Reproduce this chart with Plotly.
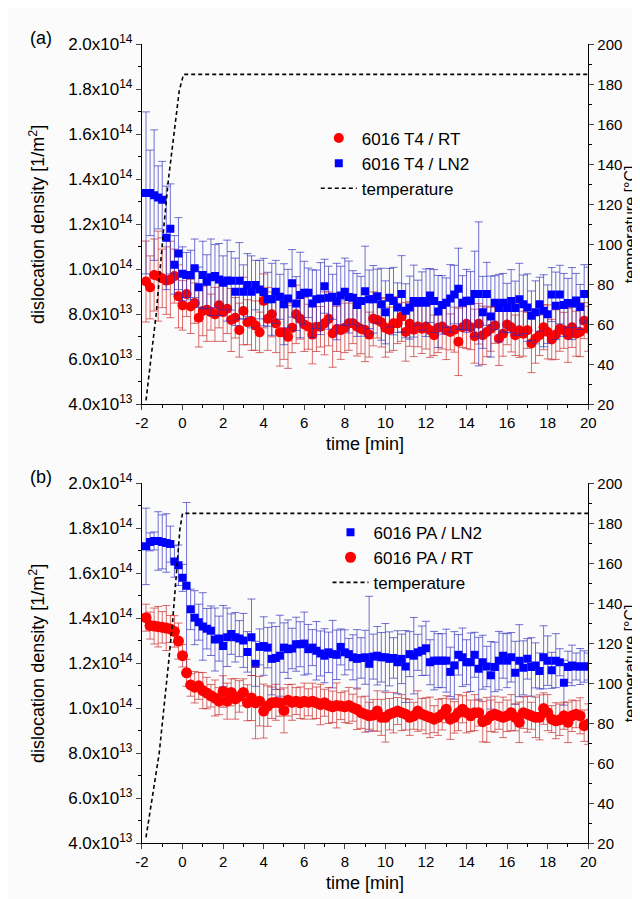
import plotly.graph_objects as go

# ---------------- data ----------------
TIME = [-1.8, -1.6, -1.4, -1.2, -1.0, -0.8, -0.6, -0.4, -0.2, 0.0,
        0.2, 0.4, 0.6, 0.8, 1.0, 1.2, 1.4, 1.6, 1.8, 2.0,
        2.2, 2.4, 2.6, 2.8, 3.0, 3.2, 3.4, 3.6, 3.8, 4.0,
        4.2, 4.4, 4.6, 4.8, 5.0, 5.2, 5.4, 5.6, 5.8, 6.0,
        6.2, 6.4, 6.6, 6.8, 7.0, 7.2, 7.4, 7.6, 7.8, 8.0,
        8.2, 8.4, 8.6, 8.8, 9.0, 9.2, 9.4, 9.6, 9.8, 10.0,
        10.2, 10.4, 10.6, 10.8, 11.0, 11.2, 11.4, 11.6, 11.8, 12.0,
        12.2, 12.4, 12.6, 12.8, 13.0, 13.2, 13.4, 13.6, 13.8, 14.0,
        14.2, 14.4, 14.6, 14.8, 15.0, 15.2, 15.4, 15.6, 15.8, 16.0,
        16.2, 16.4, 16.6, 16.8, 17.0, 17.2, 17.4, 17.6, 17.8, 18.0,
        18.2, 18.4, 18.6, 18.8, 19.0, 19.2, 19.4, 19.6, 19.8, 20.0]

# dislocation density in units of 1e13 1/m^2
T4_RT = [9.46, 9.2, 9.75, 9.7, 9.6, 9.5, 9.55, 9.7, 8.8, 8.4,
         8.9, 8.35, 8.5, 7.85, 8.15, 8.2, 8.1, 8.0, 8.4, 8.1,
         8.25, 7.75, 7.85, 7.3, 8.15, 7.65, 7.7, 7.5, 7.2, 8.6,
         7.8, 8.0, 7.6, 7.2, 7.2, 7.0, 7.4, 8.0, 7.8, 7.55,
         7.45, 7.1, 7.45, 7.45, 7.6, 7.8, 7.15, 7.35, 7.3, 7.4,
         7.6, 7.6, 7.45, 7.35, 7.3, 7.1, 7.8, 7.75, 7.65, 7.4,
         7.32, 7.6, 7.6, 7.9, 7.22, 7.58, 7.32, 7.46, 7.36, 7.46,
         7.29, 7.07, 7.4, 7.46, 7.29, 7.22, 7.32, 6.78, 7.43, 7.58,
         7.43, 7.03, 7.58, 7.07, 7.22, 7.36, 7.51, 6.93, 7.14, 7.55,
         7.43, 7.07, 7.29, 7.14, 7.29, 6.71, 6.93, 7.07, 7.43, 7.22,
         6.88, 7.1, 7.36, 7.29, 7.07, 7.43, 7.14, 7.22, 7.72, 7.36]
T4_RT_ERR = [1.8, 1.4, 1.6, 2.0, 1.3, 1.5, 1.7, 1.2, 1.4, 1.1,
             1.0, 1.2, 0.9, 1.3, 1.1, 1.4, 0.8, 1.2, 1.0, 1.3,
             1.1, 1.4, 0.9, 1.2, 1.5, 1.0, 1.3, 1.1, 0.9, 1.2,
             1.4, 1.0, 1.3, 1.5, 1.2, 1.4, 1.1, 1.3, 0.9, 1.2,
             1.0, 1.3, 1.1, 0.9, 1.4, 1.2, 1.5, 1.0, 1.3, 1.1,
             1.2, 0.9, 1.3, 1.1, 1.4, 1.0, 1.2, 0.8, 1.1, 1.3,
             1.0, 1.2, 0.9, 1.1, 1.3, 1.0, 1.2, 0.9, 1.1, 1.0,
             1.2, 0.9, 1.1, 1.0, 1.3, 0.8, 1.0, 1.5, 0.9, 1.1,
             1.0, 1.2, 0.9, 1.3, 1.1, 1.0, 0.8, 1.2, 1.0, 0.9,
             1.1, 0.9, 1.2, 1.0, 0.8, 1.3, 1.1, 0.9, 1.0, 1.2,
             0.9, 1.1, 1.0, 0.8, 1.2, 0.9, 1.0, 1.1, 0.8, 1.0]

T4_LN2 = [13.4, 13.4, 13.3, 13.2, 13.1, 11.4, 11.8, 10.2, 10.7, 9.8,
          9.75, 9.75, 10.05, 9.2, 9.75, 9.45, 9.65, 9.7, 9.55, 9.4,
          9.5, 9.49, 9.0, 9.49, 9.0, 9.3, 9.0, 9.3, 9.1, 8.99,
          8.67, 8.67, 9.0, 8.78, 8.45, 8.7, 9.38, 8.48, 8.86, 8.96,
          8.96, 8.48, 8.67, 8.7, 9.25, 8.74, 8.78, 8.57, 8.84, 9.0,
          8.77, 8.74, 8.42, 8.59, 9.03, 8.67, 8.67, 8.81, 8.45, 8.09,
          8.74, 8.59, 8.30, 8.91, 8.16, 8.30, 8.59, 8.52, 8.59, 8.52,
          8.84, 8.59, 8.13, 8.42, 8.52, 8.71, 8.88, 9.14, 8.52, 8.6,
          8.6, 8.91, 8.91, 8.09, 8.91, 7.9, 8.52, 8.28, 8.52, 8.28,
          8.59, 8.28, 8.67, 8.45, 8.30, 7.94, 8.09, 8.45, 8.16, 8.01,
          8.88, 8.38, 8.88, 8.42, 8.5, 8.48, 8.62, 8.33, 8.91, 8.9]
T4_LN2_ERR = [3.6, 1.9, 2.9, 1.4, 1.7, 2.3, 2.0, 1.3, 1.6, 1.2,
              1.0, 1.1, 1.3, 0.9, 1.5, 1.2, 1.7, 1.4, 1.6, 1.2,
              1.8, 1.3, 1.5, 1.7, 1.2, 1.4, 1.6, 1.1, 1.3, 1.5,
              1.2, 1.6, 1.4, 1.0, 1.8, 1.3, 1.5, 1.2, 1.9, 1.4,
              1.1, 1.5, 1.3, 1.6, 1.2, 1.4, 1.0, 1.7, 1.3, 1.5,
              1.6, 1.2, 1.4, 1.1, 2.0, 1.3, 1.5, 1.2, 1.6, 1.4,
              1.3, 1.5, 1.1, 1.7, 1.2, 1.4, 1.6, 1.0, 1.3, 1.5,
              1.2, 1.4, 1.6, 1.3, 1.1, 1.5, 1.3, 1.8, 1.2, 1.4,
              1.3, 1.9, 3.2, 1.6, 1.4, 1.8, 1.2, 1.5, 1.3, 1.1,
              1.4, 1.2, 1.6, 1.3, 1.5, 1.1, 1.4, 1.2, 1.6, 1.3,
              1.2, 1.5, 1.3, 1.4, 1.1, 1.6, 1.2, 1.0, 1.3, 1.2]

PA_LN2 = [17.2, 17.4, 17.44, 17.44, 17.4, 17.35, 17.3, 16.53, 16.36, 15.8,
          15.45, 14.4, 14.03, 13.83, 13.64, 13.54, 13.45, 13.06, 13.1, 12.77,
          13.16, 13.3, 13.16, 13.1, 13.02, 12.51, 13.16, 11.98, 12.73, 12.77,
          12.7, 12.2, 12.24, 12.34, 12.7, 12.63, 12.66, 12.85, 12.85, 12.88,
          12.63, 12.7, 12.56, 12.44, 12.34, 12.49, 12.41, 12.38, 12.73, 12.49,
          12.41, 12.27, 12.2, 12.24, 12.27, 11.98, 12.3, 12.34, 12.27, 12.27,
          12.2, 12.24, 12.05, 12.2, 11.86, 12.41, 12.34, 12.49, 12.56, 12.67,
          12.05, 12.12, 12.12, 12.12, 12.12, 11.62, 11.91, 12.38, 12.27, 12.05,
          12.05, 12.38, 11.76, 12.05, 11.86, 11.47, 11.84, 12.12, 12.34, 12.12,
          12.27, 11.58, 12.12, 11.8, 12.2, 11.84, 11.91, 11.66, 12.27, 12.12,
          11.69, 12.12, 12.05, 11.14, 11.84, 11.91, 11.86, 11.86, 11.86, 11.86]
PA_LN2_ERR = [1.7, 0.4, 0.4, 1.3, 1.2, 1.3, 0.8, 0.7, 0.9, 0.6,
              3.7, 0.9, 1.2, 0.8, 1.5, 0.9, 1.1, 1.4, 1.0, 1.8,
              1.3, 0.9, 1.1, 0.8, 1.2, 0.9, 1.7, 1.0, 0.8, 1.3,
              0.9, 1.6, 1.4, 1.8, 1.1, 1.3, 0.9, 1.2, 1.0, 1.4,
              1.1, 0.8, 1.3, 1.0, 1.2, 0.9, 1.5, 1.1, 0.8, 1.0,
              0.7, 1.0, 1.3, 0.9, 1.2, 3.0, 1.0, 1.3, 1.1, 1.5,
              1.2, 0.9, 1.4, 1.1, 1.6, 1.0, 1.7, 0.8, 1.1, 1.2,
              1.0, 1.3, 1.2, 1.2, 1.4, 1.1, 1.5, 0.9, 1.3, 1.0,
              1.3, 1.0, 1.4, 1.2, 0.9, 1.5, 1.1, 1.3, 1.0, 1.2,
              1.1, 1.4, 1.6, 1.2, 0.9, 1.3, 1.0, 0.8, 1.4, 1.1,
              0.8, 1.2, 0.6, 1.0, 0.7, 0.9, 0.6, 0.8, 0.7, 0.6]

PA_RT = [14.03, 13.68, 13.66, 13.63, 13.6, 13.57, 13.53, 13.42, 12.99, 12.34,
         11.58, 11.04, 10.94, 11.0, 10.79, 10.68, 10.56, 10.46, 10.32, 10.75,
         10.32, 10.71, 10.42, 10.53, 10.71, 10.25, 10.46, 10.25, 10.32, 9.88,
         10.1, 10.25, 10.27, 10.25, 9.91, 10.36, 10.27, 10.32, 10.25, 10.32,
         10.27, 10.32, 10.25, 10.17, 10.25, 10.13, 10.07, 10.13, 10.1, 10.07,
         10.13, 10.03, 9.96, 9.81, 9.74, 9.67, 9.7, 9.88, 9.6, 9.6,
         9.74, 9.81, 9.88, 9.81, 9.74, 9.6, 9.67, 9.88, 9.74, 9.67,
         9.6, 9.52, 9.6, 9.74, 9.96, 9.52, 9.6, 9.81, 9.96, 9.81,
         9.67, 9.81, 9.81, 9.41, 9.49, 9.67, 9.74, 9.67, 9.6, 9.67,
         9.81, 9.6, 9.38, 9.81, 9.74, 9.67, 9.6, 9.6, 9.99, 9.81,
         9.52, 9.45, 9.49, 9.67, 9.38, 9.67, 9.74, 9.67, 9.23, 9.3]
PA_RT_ERR = [0.6, 0.6, 0.8, 0.9, 0.7, 1.0, 0.6, 0.7, 0.8, 0.5,
             0.6, 0.5, 0.7, 0.6, 0.8, 0.7, 0.5, 0.8, 0.6, 0.7,
             0.8, 0.6, 0.9, 0.7, 0.6, 0.8, 1.0, 1.6, 1.1, 1.2,
             0.9, 0.7, 0.8, 0.6, 1.0, 0.7, 0.8, 0.6, 0.7, 0.8,
             0.6, 0.8, 0.7, 0.9, 0.6, 0.8, 0.7, 1.0, 0.6, 0.7,
             0.8, 0.6, 0.9, 0.7, 0.8, 0.6, 0.7, 0.9, 0.8, 1.1,
             0.7, 0.9, 0.6, 0.8, 0.7, 0.8, 0.6, 0.9, 0.7, 0.8,
             0.9, 0.6, 0.8, 0.7, 0.6, 0.9, 0.7, 0.8, 0.6, 0.9,
             0.7, 0.8, 0.6, 0.9, 1.0, 0.7, 0.8, 0.6, 0.9, 0.7,
             0.8, 0.6, 0.9, 0.7, 0.8, 0.6, 0.9, 1.0, 0.7, 0.8,
             0.6, 0.8, 0.7, 0.6, 0.9, 0.7, 0.6, 0.8, 0.7, 0.9]

TEMP_T_A = [-1.8, -1.3, -0.92, -0.7, -0.16, 0.05, 20.0]
TEMP_C_A = [22, 65, 109, 132, 177, 185, 185]
TEMP_T_B = [-1.8, -1.15, -0.69, -0.48, -0.13, 0.0, 20.0]
TEMP_C_B = [23, 65, 110, 132, 177, 185, 185]

Y_TICKVALS = [4, 6, 8, 10, 12, 14, 16, 18, 20]
Y_TICKTEXT = ["4.0x10<sup>13</sup>", "6.0x10<sup>13</sup>", "8.0x10<sup>13</sup>",
              "1.0x10<sup>14</sup>", "1.2x10<sup>14</sup>", "1.4x10<sup>14</sup>",
              "1.6x10<sup>14</sup>", "1.8x10<sup>14</sup>", "2.0x10<sup>14</sup>"]
X_TICKVALS = [-2, 0, 2, 4, 6, 8, 10, 12, 14, 16, 18, 20]
X_TICKTEXT = ["-2", "0", "2", "4", "6", "8", "10", "12", "14", "16", "18", "20"]

for arr in (T4_RT, T4_RT_ERR, T4_LN2, T4_LN2_ERR, PA_LN2, PA_LN2_ERR, PA_RT, PA_RT_ERR):
    assert len(arr) == len(TIME), len(arr)

# ---------------- styling ----------------
FONT = "Liberation Sans, Arial, sans-serif"
RED = "#ff0000"
BLUE = "#0000ff"
RED_ERR = "rgba(200,30,30,0.65)"
BLUE_ERR = "rgba(40,40,190,0.65)"
BG = "#fbfbfb"

fig = go.Figure()


def density_trace(y, err, name, color, ecolor, symbol, size, xa, ya, legend):
    return go.Scatter(
        x=TIME, y=y, mode="markers", name=name,
        marker=dict(color=color, symbol=symbol, size=size, line=dict(width=0)),
        error_y=dict(type="data", array=err, visible=True, color=ecolor,
                     thickness=1, width=4),
        xaxis=xa, yaxis=ya, legend=legend)


# panel (a)
fig.add_trace(density_trace(T4_RT, T4_RT_ERR, "6016 T4 / RT", RED, RED_ERR,
                            "circle", 10, "x", "y", "legend"))
fig.add_trace(density_trace(T4_LN2, T4_LN2_ERR, "6016 T4 / LN2", BLUE, BLUE_ERR,
                            "square", 8, "x", "y", "legend"))
fig.add_trace(go.Scatter(x=TEMP_T_A, y=TEMP_C_A, mode="lines", name="temperature",
                         line=dict(color="black", dash="4px,3px", width=1.6),
                         xaxis="x", yaxis="y2", legend="legend"))

# panel (b)
fig.add_trace(density_trace(PA_LN2, PA_LN2_ERR, "6016 PA / LN2", BLUE, BLUE_ERR,
                            "square", 8, "x2", "y3", "legend2"))
fig.add_trace(density_trace(PA_RT, PA_RT_ERR, "6016 PA / RT", RED, RED_ERR,
                            "circle", 11, "x2", "y3", "legend2"))
fig.add_trace(go.Scatter(x=TEMP_T_B, y=TEMP_C_B, mode="lines", name="temperature",
                         line=dict(color="black", dash="4px,3px", width=1.6),
                         xaxis="x2", yaxis="y4", legend="legend2"))

W, H = 640, 899
XD = [130 / W, 587 / W]
YA = [1 - 394 / H, 1 - 25 / H]
YB = [1 - 844 / H, 1 - 475 / H]

xtickfont = dict(family=FONT, size=15, color="black")
ytickfont = dict(family=FONT, size=17, color="black")
rtickfont = dict(family=FONT, size=15, color="black")
titlefont = dict(family=FONT, size=18, color="black")


def xaxis(anchor):
    return dict(domain=XD, anchor=anchor, range=[-2, 20], tickmode="array",
                tickvals=X_TICKVALS, ticktext=X_TICKTEXT, ticks="outside",
                ticklen=5, tickwidth=1,
                showline=True, linecolor="black", linewidth=1.2, showgrid=False,
                zeroline=False, tickfont=xtickfont,
                minor=dict(tickmode="linear", tick0=-2, dtick=1, ticks="outside",
                           ticklen=3, tickcolor="black", showgrid=False),
                title=dict(text="time [min]", font=titlefont, standoff=6))


def yleft(domain, anchor):
    return dict(domain=domain, anchor=anchor, range=[4, 20], tickmode="array",
                tickvals=Y_TICKVALS, ticktext=Y_TICKTEXT, ticks="outside",
                ticklen=5, tickwidth=1, showline=True, linecolor="black",
                linewidth=1.2, showgrid=False, zeroline=False, tickfont=ytickfont,
                minor=dict(tickmode="linear", tick0=4, dtick=1, ticks="outside",
                           ticklen=3, tickcolor="black", showgrid=False),
                title=dict(text="dislocation density [1/m<sup>2</sup>]",
                           font=titlefont, standoff=18))


def yright(overlay, anchor):
    return dict(overlaying=overlay, anchor=anchor, side="right", range=[20, 200],
                tickmode="linear", tick0=20, dtick=20, ticks="outside", ticklen=5,
                tickwidth=1, showline=True, linecolor="black", linewidth=1.2,
                showgrid=False, zeroline=False, tickfont=rtickfont,
                minor=dict(tickmode="linear", tick0=20, dtick=10, ticks="outside",
                           ticklen=3, tickcolor="black", showgrid=False),
                title=dict(text="temperature [°C]",
                           font=dict(family=FONT, size=16, color="black"),
                           standoff=1))


legend_common = dict(font=dict(family=FONT, size=17, color="black"),
                     bgcolor="rgba(0,0,0,0)", borderwidth=0, xanchor="left",
                     yanchor="top", itemsizing="trace", tracegroupgap=0,
                     itemwidth=36)

fig.update_layout(
    width=W, height=H, margin=dict(l=0, r=0, t=0, b=0),
    paper_bgcolor=BG, plot_bgcolor=BG,
    font=dict(family=FONT, color="black"),
    xaxis=xaxis("y"), yaxis=yleft(YA, "x"), yaxis2=yright("y", "x"),
    xaxis2=xaxis("y3"), yaxis3=yleft(YB, "x2"), yaxis4=yright("y3", "x2"),
    legend=dict(x=308 / W, y=1 - 103 / H, **legend_common),
    legend2=dict(x=320 / W, y=1 - 507 / H, **legend_common),
    annotations=[
        dict(text="(a)", x=13 / W, y=1 - 18 / H, xref="paper", yref="paper",
             xanchor="left", yanchor="middle", showarrow=False,
             font=dict(family=FONT, size=18, color="black")),
        dict(text="(b)", x=13 / W, y=1 - 468 / H, xref="paper", yref="paper",
             xanchor="left", yanchor="middle", showarrow=False,
             font=dict(family=FONT, size=18, color="black")),
    ],
)

fig.write_html("out.html")
